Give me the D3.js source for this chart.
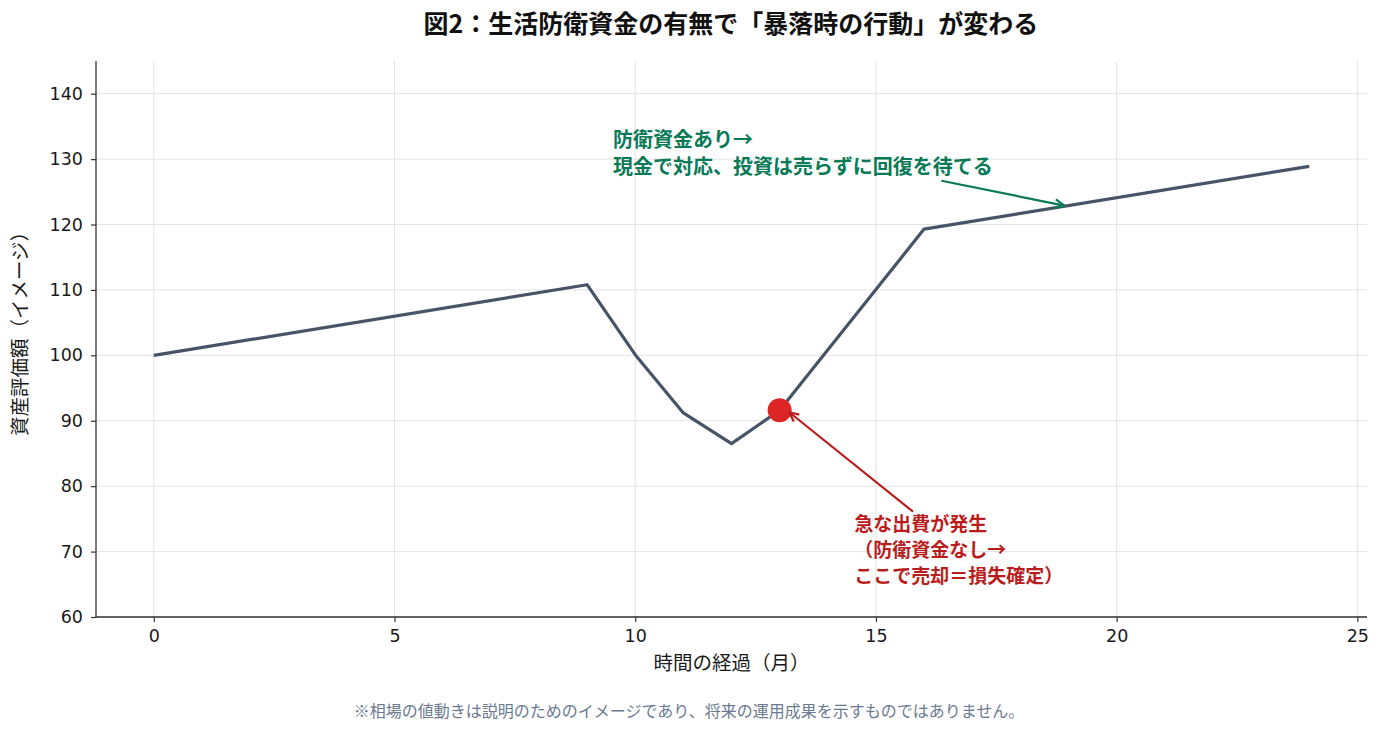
<!DOCTYPE html>
<html>
<head>
<meta charset="utf-8">
<script src="https://cdn.jsdelivr.net/npm/d3@7"></script>
<style>
  body { margin: 0; background: #fff; }
  svg { font-family: "Noto Sans CJK JP", "Noto Sans", sans-serif; }
</style>
</head>
<body>
<svg id="chart" width="1384" height="734"></svg>
<script>
// values (vertices of the line)
const months = [0, 9, 10, 11, 12, 13, 16, 24];
const assetValues = [100, 110.8, 100.1, 91.2, 86.5, 91.6, 119.3, 128.9];
const xTicks = [0, 5, 10, 15, 20, 25];
const yTicks = [60, 70, 80, 90, 100, 110, 120, 130, 140];
const saleMonth = 13;
const saleValue = 91.6;

const titleText = "図2：生活防衛資金の有無で「暴落時の行動」が変わる";
const xLabel = "時間の経過（月）";
const yLabel = "資産評価額（イメージ）";
const noteText = "※相場の値動きは説明のためのイメージであり、将来の運用成果を示すものではありません。";
const greenLines = ["防衛資金あり→", "現金で対応、投資は売らずに回復を待てる"];
const redLines = ["急な出費が発生", "（防衛資金なし→", "ここで売却＝損失確定）"];

const svg = d3.select("#chart");
const margin = {top: 61, right: 17, bottom: 117, left: 96};
const W = 1384 - margin.left - margin.right;
const H = 734 - margin.top - margin.bottom;
const g = svg.append("g").attr("transform", `translate(${margin.left},${margin.top})`);

const x = d3.scaleLinear().domain([-1.2, 25.2]).range([0, W]);
const y = d3.scaleLinear().domain([60, 145]).range([H, 0]);

// grid
g.append("g").selectAll("line").data(xTicks).join("line")
    .attr("x1", d => x(d)).attr("x2", d => x(d)).attr("y1", 0).attr("y2", H)
    .attr("stroke", "#e3e3e3").attr("stroke-width", 1);
g.append("g").selectAll("line").data(yTicks).join("line")
    .attr("x1", 0).attr("x2", W).attr("y1", d => y(d)).attr("y2", d => y(d))
    .attr("stroke", "#e3e3e3").attr("stroke-width", 1);

// axes
const xAxis = g.append("g").attr("transform", `translate(0,${H})`)
    .call(d3.axisBottom(x).tickValues(xTicks).tickSize(5).tickPadding(8).tickSizeOuter(0));
const yAxis = g.append("g")
    .call(d3.axisLeft(y).tickValues(yTicks).tickSize(5).tickPadding(8).tickSizeOuter(0));
[xAxis, yAxis].forEach(a => {
    a.select(".domain").attr("stroke", "#333").attr("stroke-width", 1.3);
    a.selectAll(".tick line").attr("stroke", "#333").attr("stroke-width", 1.2);
    a.selectAll(".tick text").attr("fill", "#1a1a1a").style("font-size", "17.5px")
        .style("font-family", "'DejaVu Sans', sans-serif");
});
// domain lines should span the whole axes
xAxis.select(".domain").attr("d", `M0,0H${W}`);
yAxis.select(".domain").attr("d", `M0,0V${H}`);

// line
const line = d3.line().x((d, i) => x(months[i])).y(d => y(d));
g.append("path").datum(assetValues)
    .attr("fill", "none").attr("stroke", "#475467").attr("stroke-width", 3.2)
    .attr("stroke-linejoin", "round")
    .attr("d", line);

// arrow markers
const defs = svg.append("defs");
function addMarker(id, color) {
    defs.append("marker").attr("id", id)
        .attr("viewBox", "0 0 10 10").attr("refX", 9.5).attr("refY", 5)
        .attr("markerWidth", 11).attr("markerHeight", 11).attr("markerUnits", "userSpaceOnUse")
        .attr("orient", "auto")
        .append("path").attr("d", "M1,1 L9.5,5 L1,9")
        .attr("fill", "none").attr("stroke", color).attr("stroke-width", 2);
}
addMarker("arrGreen", "#087a56");
addMarker("arrRed", "#b91c1c");

// sale point
g.append("circle").attr("cx", x(saleMonth)).attr("cy", y(saleValue)).attr("r", 12)
    .attr("fill", "#dc2626");

// green annotation
g.append("line")
    .attr("x1", x(16.36)).attr("y1", y(126.7))
    .attr("x2", x(18.91)).attr("y2", y(122.9))
    .attr("stroke", "#087a56").attr("stroke-width", 2.2).attr("marker-end", "url(#arrGreen)");
const gt = g.append("text").attr("x", x(9.54)).attr("y", y(132.96))
    .attr("fill", "#087a56").style("font-size", "20px").style("font-weight", "bold");
greenLines.forEach((t, i) => gt.append("tspan").attr("x", x(9.54)).attr("dy", i === 0 ? "0.35em" : 27).text(t));

// red annotation
g.append("line")
    .attr("x1", x(15.77)).attr("y1", y(76.1))
    .attr("x2", x(13.2)).attr("y2", y(91.3))
    .attr("stroke", "#b91c1c").attr("stroke-width", 2.2).attr("marker-end", "url(#arrRed)");
const rt = g.append("text").attr("x", x(14.55)).attr("y", y(74.2))
    .attr("fill", "#b91c1c").style("font-size", "19px").style("font-weight", "bold");
redLines.forEach((t, i) => rt.append("tspan").attr("x", x(14.55)).attr("dy", i === 0 ? "0.35em" : 26).text(t));

// titles
svg.append("text").attr("x", 731).attr("y", 26).attr("text-anchor", "middle").attr("dominant-baseline", "middle")
    .style("font-size", "25px").style("font-weight", "bold").attr("fill", "#111").text(titleText);
svg.append("text").attr("x", margin.left + x(12)).attr("y", 665).attr("text-anchor", "middle").attr("dominant-baseline", "middle")
    .style("font-size", "19.5px").attr("fill", "#1a1a1a").text(xLabel);
svg.append("text").attr("transform", `translate(22,${margin.top + H / 2 - 10}) rotate(-90)`)
    .attr("text-anchor", "middle").attr("dominant-baseline", "middle")
    .style("font-size", "19.5px").attr("fill", "#1a1a1a").text(yLabel);
svg.append("text").attr("x", 689).attr("y", 713).attr("text-anchor", "middle").attr("dominant-baseline", "middle")
    .style("font-size", "16px").attr("fill", "#6b7a90").text(noteText);
</script>
</body>
</html>
